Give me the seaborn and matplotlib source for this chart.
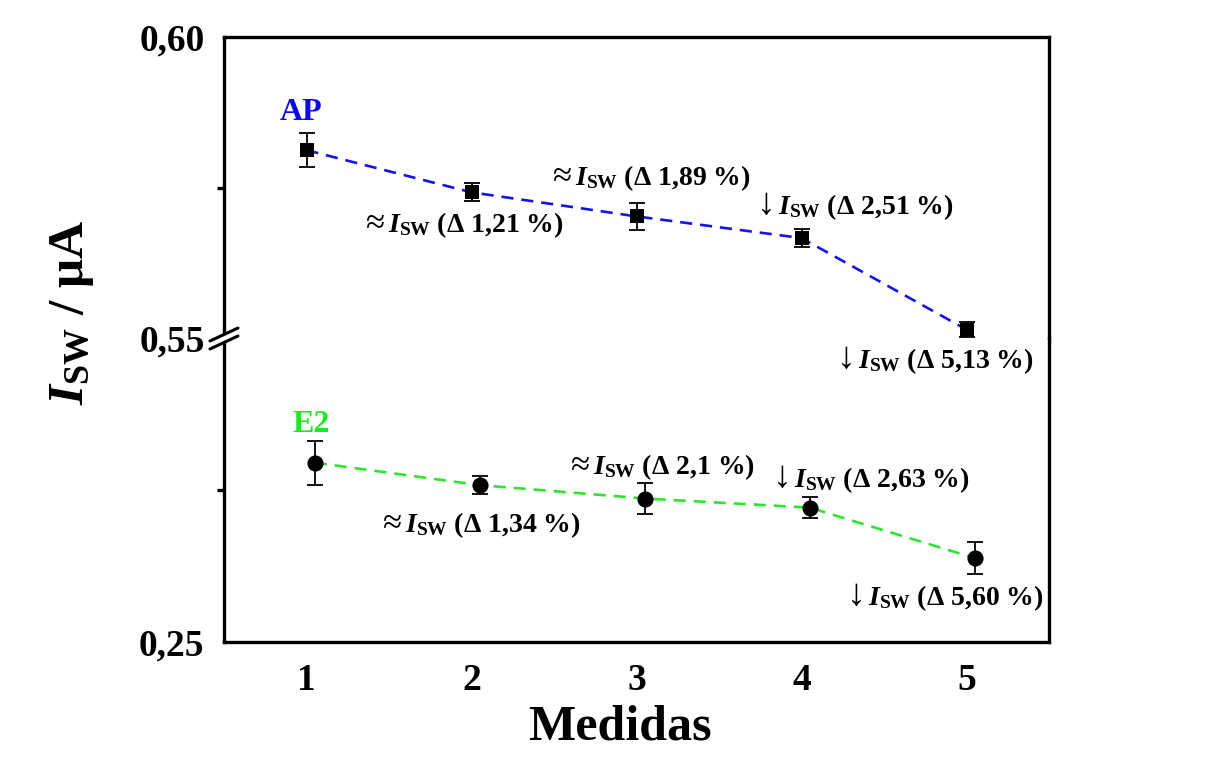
import numpy as np
import pandas as pd
import matplotlib
matplotlib.use("Agg")
import matplotlib.pyplot as plt
import matplotlib.transforms as mtransforms
from matplotlib.ticker import FixedLocator, FuncFormatter
from matplotlib.lines import Line2D
from matplotlib.patches import Polygon
import seaborn as sns

# ---- data ----
medidas = [1, 2, 3, 4, 5]
ap_isw = [0.5812, 0.5742, 0.5702, 0.5666, 0.5514]
ap_err = [0.0028, 0.0015, 0.0023, 0.0015, 0.0013]
e2_isw = [0.2795, 0.2758, 0.2736, 0.2721, 0.2638]
e2_err = [0.0036, 0.0015, 0.0026, 0.0017, 0.0026]
e2_shift = 0.05

ap_sign = ["≈", "≈", "↓", "↓"]
ap_delta = ["1,21", "1,89", "2,51", "5,13"]
e2_sign = ["≈", "≈", "↓", "↓"]
e2_delta = ["1,34", "2,1", "2,63", "5,60"]

x_ticks = [1, 2, 3, 4, 5]
upper_ticks = [0.55, 0.60]
lower_ticks = [0.25]

# ---- style ----
sns.set_style("white")
plt.rcParams["font.family"] = ["Liberation Serif", "DejaVu Serif"]
plt.rcParams["font.weight"] = "bold"
plt.rcParams["text.color"] = "black"
plt.rcParams["axes.labelcolor"] = "black"
plt.rcParams["xtick.color"] = "black"
plt.rcParams["ytick.color"] = "black"
plt.rcParams["mathtext.fontset"] = "custom"
plt.rcParams["mathtext.rm"] = "Liberation Serif:bold"
plt.rcParams["mathtext.bf"] = "Liberation Serif:bold"
plt.rcParams["mathtext.it"] = "Liberation Serif:italic:bold"

W, H = 1209, 776
fig = plt.figure(figsize=(W / 100, H / 100), dpi=100)
fig.patch.set_facecolor("white")

left, width = 224 / W, 825 / W
y_top, y_brk, y_bot = 1 - 37 / H, 1 - 338 / H, 1 - 642 / H
ax_up = fig.add_axes([left, y_brk, width, y_top - y_brk])
ax_lo = fig.add_axes([left, y_bot, width, y_brk - y_bot])

blue = "#1414e6"
green = "#2ee62e"
spine_w = 2.4
tick_fs = 27


def comma(v, pos):
    return f"{v:.2f}".replace(".", ",")


def draw_series(ax, xs, ys, errs, line_color, marker, msize):
    df = pd.DataFrame({"Medidas": xs, "Isw": ys})
    sns.lineplot(data=df, x="Medidas", y="Isw", ax=ax, color=line_color,
                 lw=1.9, zorder=2, legend=False)
    ax.lines[-1].set_dashes((4.6, 3.0))
    ax.errorbar(xs, ys, yerr=errs, fmt="none", ecolor="black",
                elinewidth=1.3, capsize=5.5, capthick=1.3, zorder=3)
    sns.scatterplot(data=df, x="Medidas", y="Isw", ax=ax, marker=marker,
                    s=msize, color="black", edgecolor="black", linewidth=0,
                    zorder=4, legend=False)


draw_series(ax_up, medidas, ap_isw, ap_err, blue, "s", 105)
draw_series(ax_lo, [m + e2_shift for m in medidas], e2_isw, e2_err, green, "o", 135)

for ax in (ax_up, ax_lo):
    ax.set_xlim(0.5, 5.5)
    ax.set_xlabel("")
    ax.set_ylabel("")
    ax.patch.set_visible(False)
    for s in ax.spines.values():
        s.set_linewidth(spine_w)
        s.set_color("black")
    ax.yaxis.set_major_formatter(FuncFormatter(comma))
    ax.tick_params(axis="y", which="major", direction="out", length=8,
                   width=spine_w, labelsize=tick_fs, pad=6, right=False)
    ax.tick_params(axis="y", which="minor", direction="out", length=5,
                   width=spine_w, right=False, left=True)

ax_up.set_ylim(0.55, 0.60)
ax_up.yaxis.set_major_locator(FixedLocator(upper_ticks))
ax_up.yaxis.set_minor_locator(FixedLocator([0.575]))
ax_up.spines["bottom"].set_visible(False)
ax_up.tick_params(axis="x", which="both", bottom=False, top=False, labelbottom=False)
ax_up.set_yticklabels([comma(v, None) for v in upper_ticks], fontweight="bold", fontsize=tick_fs)

ax_lo.set_ylim(0.25, 0.30)
ax_lo.yaxis.set_major_locator(FixedLocator(lower_ticks))
ax_lo.yaxis.set_minor_locator(FixedLocator([0.275]))
ax_lo.spines["top"].set_visible(False)
ax_lo.set_xticks(x_ticks)
ax_lo.set_xticklabels([str(v) for v in x_ticks], fontweight="bold", fontsize=tick_fs)
ax_lo.tick_params(axis="x", which="major", direction="out", length=9,
                  width=spine_w, labelsize=tick_fs, pad=6, top=False)
ax_lo.set_yticklabels([comma(v, None) for v in lower_ticks], fontweight="bold", fontsize=tick_fs)

# ---- annotations: trend sign followed by I_SW and the percentage change ----
ann_fs = 20
ap_pos = [(1.355, 0.5676), (2.488, 0.5754), (3.730, 0.5706), (4.215, 0.5450)]
e2_pos = [(1.458, 0.2681), (2.597, 0.2776), (3.827, 0.2755), (4.276, 0.2561)]
# family, size (pt), and gap (pt) before the I_SW part
sign_font = {"≈": (["Liberation Serif"], 25, 16.5),
             "↓": (["Liberation Serif"], 27, 15.0)}


def annotate(ax, x, y, sign, delta):
    family, size, shift = sign_font[sign]
    ax.text(x, y, sign, family=family, fontsize=size, fontweight="normal",
            ha="left", va="baseline", clip_on=False, zorder=6)
    tr = mtransforms.offset_copy(ax.transData, fig=fig, x=shift, y=0,
                                 units="points")
    ax.text(x, y, f"$I_{{\\mathbf{{SW}}}}$ (Δ {delta} %)", transform=tr,
            fontsize=ann_fs, fontweight="bold", ha="left", va="baseline",
            clip_on=False, zorder=6)


for (x, y), sg, d in zip(ap_pos, ap_sign, ap_delta):
    annotate(ax_up, x, y, sg, d)
for (x, y), sg, d in zip(e2_pos, e2_sign, e2_delta):
    annotate(ax_lo, x, y, sg, d)

ax_up.text(0.839, 0.5862, "AP", color="#0a0aee", fontsize=23,
           fontweight="bold", ha="left", va="baseline")
ax_lo.text(0.912, 0.2845, "E2", color="#1ee81e", fontsize=23,
           fontweight="bold", ha="left", va="baseline")

# ---- axis titles ----
fig.text(620 / W, 1 - 727 / H, "Medidas", fontsize=36, fontweight="bold",
         ha="center", va="center")
fig.text(72 / W, 1 - 312 / H, r"$I_{\mathbf{SW}}$ / μA", fontsize=37,
         fontweight="bold", rotation=90, ha="center", va="center")

# ---- axis break marks on the left spine ----
def fpt(px, py):
    return (px / W, 1 - py / H)


gap = Polygon([fpt(211, 341), fpt(237, 329), fpt(237, 337), fpt(211, 349)],
              closed=True, transform=fig.transFigure, facecolor="white",
              edgecolor="none", zorder=10)
fig.patches.append(gap)
for dy in (0, 8):
    (x0, y0), (x1, y1) = fpt(210, 341 + dy), fpt(238, 328 + dy)
    fig.lines.append(Line2D([x0, x1], [y0, y1], transform=fig.transFigure,
                            color="black", lw=2.2, zorder=11))

fig.savefig("out.png", dpi=100, facecolor="white")
